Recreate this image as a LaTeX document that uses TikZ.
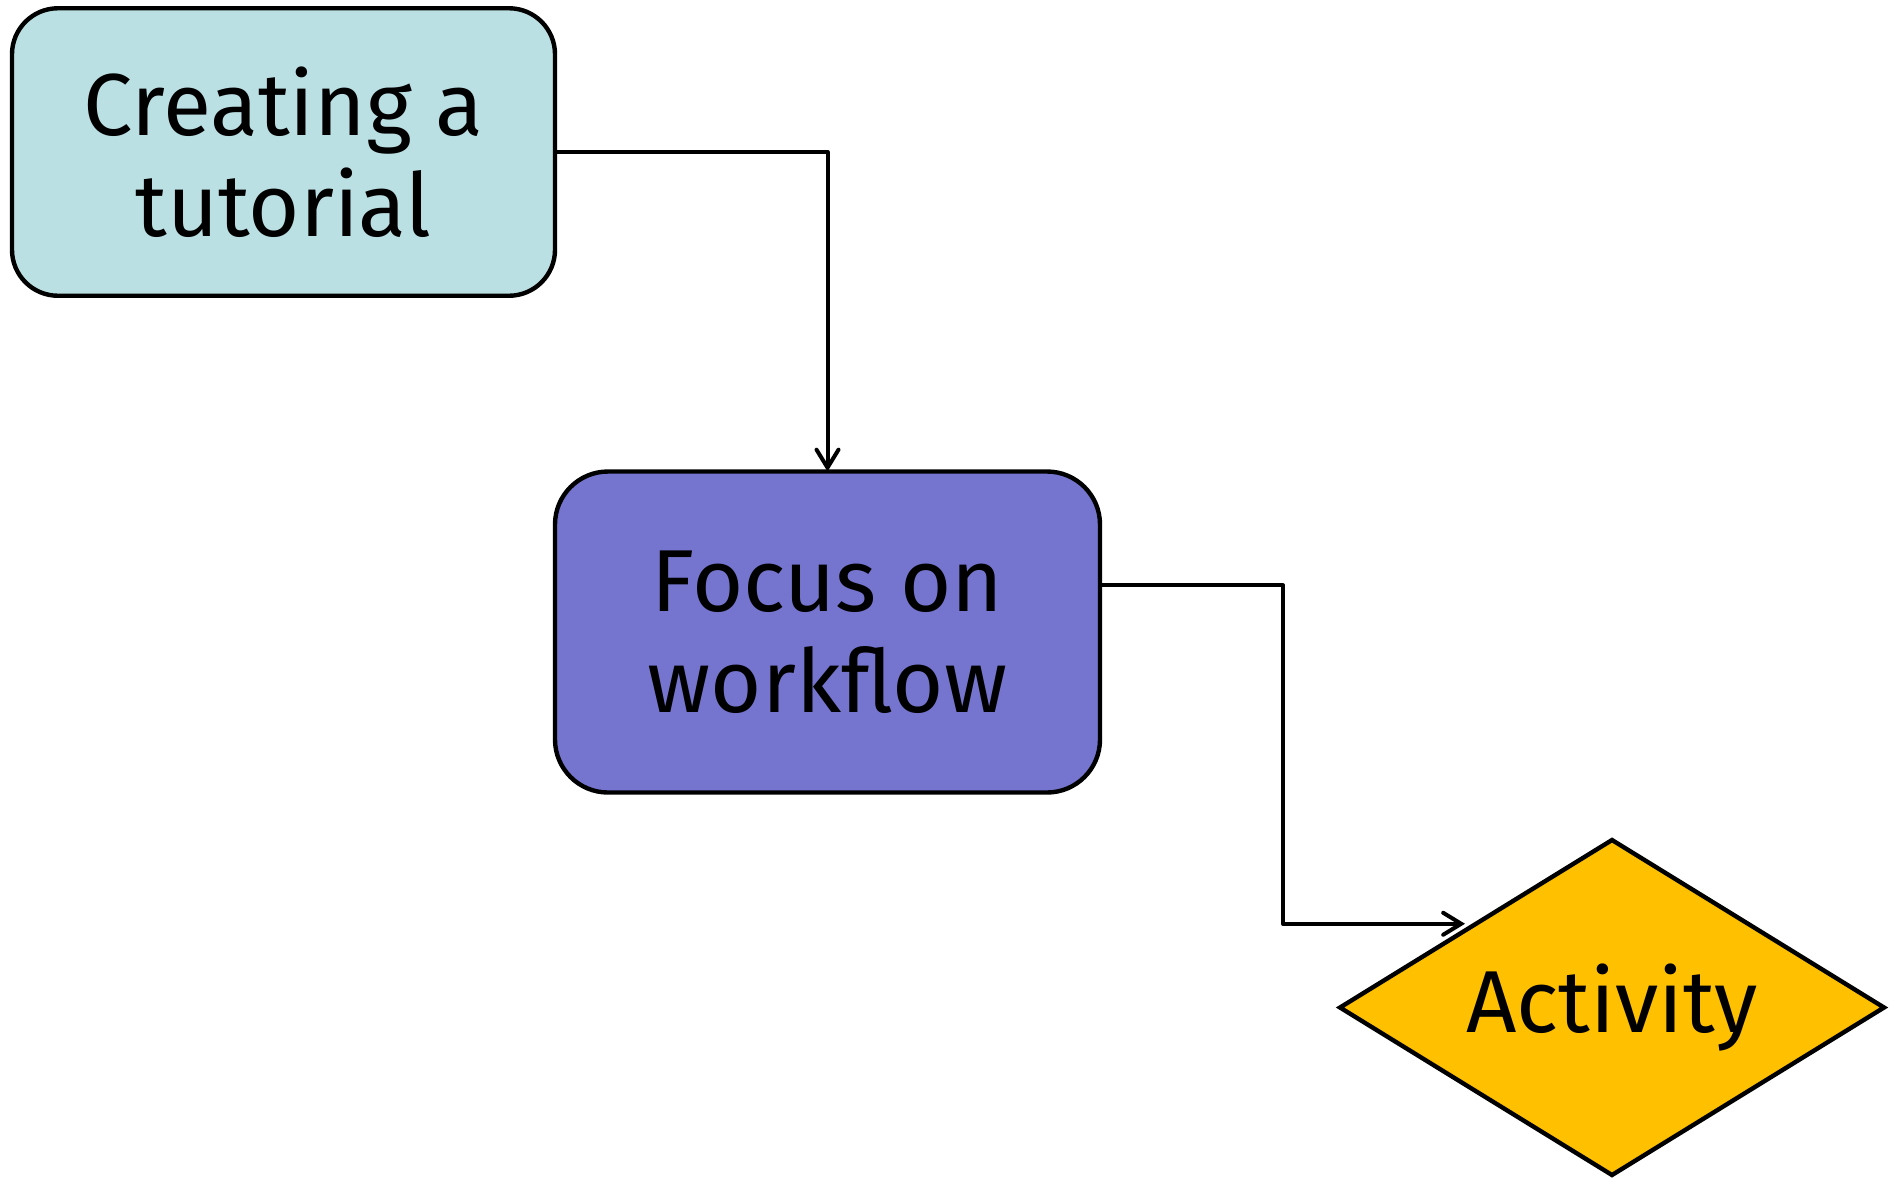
\documentclass[tikz,border=0pt]{standalone}
\usepackage{fontspec}
\setmainfont{Fira Sans}
\usetikzlibrary{arrows.meta,shapes.geometric,calc}
\definecolor{boxteal}{HTML}{BBE0E3}
\definecolor{boxpurple}{HTML}{7575CF}
\definecolor{boxamber}{HTML}{FFC000}
\begin{document}
\begin{tikzpicture}[x=0.5pt,y=-0.5pt,
  box/.style={draw=black, line width=2.2pt, rounded corners=23pt, align=center,
    inner sep=0pt, outer sep=0pt, font=\fontsize{44pt}{50.5pt}\selectfont},
  decision/.style={draw=black, line width=2.2pt, diamond, aspect=1.624, inner sep=0pt, outer sep=0pt,
    font=\fontsize{44pt}{50.5pt}\selectfont},
  conn/.style={draw=black, line width=2pt, line cap=round, line join=round,
    -{Straight Barb[length=9pt,width=11pt,line cap=round]}}]
\useasboundingbox (0,0) rectangle (1900,1185);
\node[box, fill=boxteal, minimum width=271.5pt, minimum height=143.75pt] (tut) at (283.5,152) {Creating a\\tutorial};
\node[box, fill=boxpurple, rounded corners=26.5pt, minimum width=272.5pt, minimum height=160.5pt] (focus) at (827.5,632) {Focus on\\workflow};
\node[decision, fill=boxamber, minimum width=272pt, minimum height=167.5pt] (act) at (1612,1007.5) {Activity};
\coordinate (fo) at ($(focus.north east)!0.355!(focus.south east)$);
\coordinate (turn) at (1283,750);
\draw[conn] (tut.east) -| (focus.north);
\draw[conn, shorten >=5.5pt] (fo) -| (turn) |- (act.north west);
\end{tikzpicture}
\end{document}
